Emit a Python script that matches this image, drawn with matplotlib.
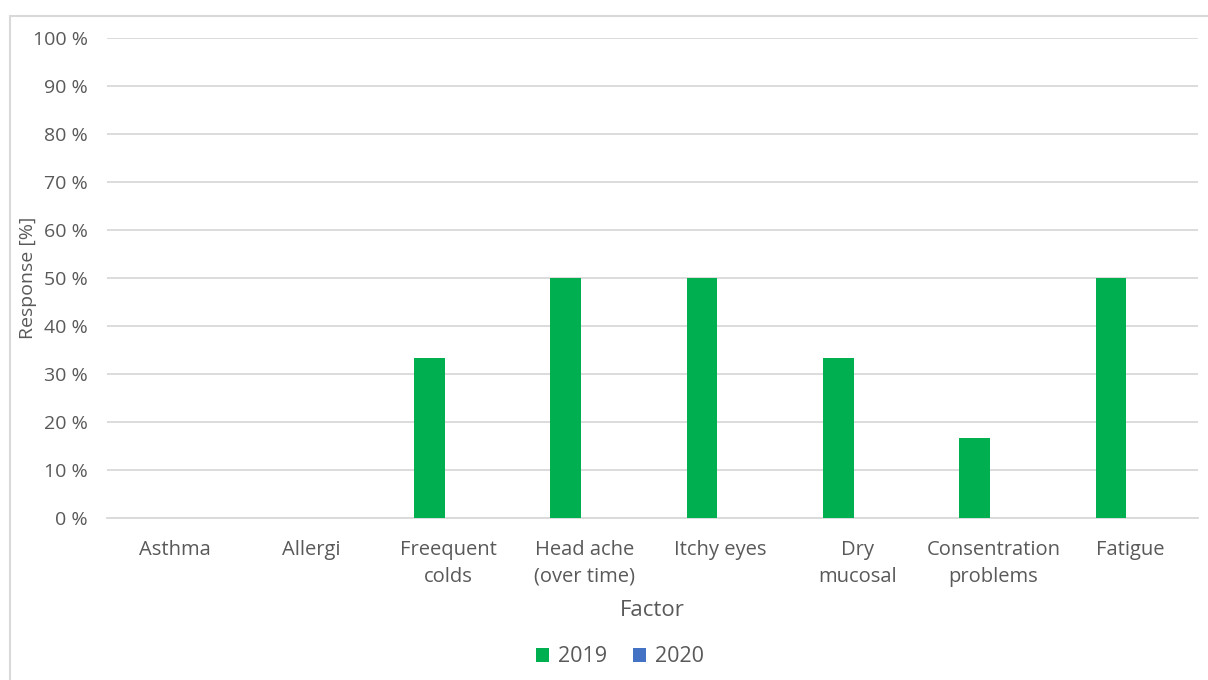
import matplotlib
matplotlib.use("Agg")
import matplotlib.pyplot as plt
from matplotlib.patches import Rectangle
import numpy as np

categories = ["Asthma", "Allergi", "Freequent\ncolds", "Head ache\n(over time)", "Itchy eyes",
              "Dry\nmucosal", "Consentration\nproblems", "Fatigue"]
values_2019 = [0, 0, 33.3, 50, 50, 33.3, 16.7, 50]
values_2020 = [0, 0, 0, 0, 0, 0, 0, 0]
series_names = ["2019", "2020"]
colors = ["#00B050", "#4472C4"]
yticks = list(range(0, 101, 10))

plt.rcParams['font.family'] = ['Open Sans', 'DejaVu Sans']
grey = "#595959"

W, H = 1208, 680
fig = plt.figure(figsize=(W/100, H/100), dpi=100)
ax = fig.add_axes([107/W, 1-518/H, (1198-107)/W, (518-38)/H])

fig.patches.append(Rectangle((10/W, -0.1), 1.2, 1-16/H+0.1, transform=fig.transFigure,
                             fill=False, edgecolor="#D9D9D9", linewidth=1.5))

x = np.arange(len(categories))
bw = 0.225
ax.bar(x - 0.137, values_2019, width=bw, color=colors[0], label=series_names[0], zorder=3)
ax.bar(x + 0.137, values_2020, width=bw, color=colors[1], label=series_names[1], zorder=3)

ax.set_xlim(-0.5, len(categories) - 0.5)
ax.set_ylim(0, 100)
ax.set_yticks(yticks)
ax.set_yticklabels([f"{t} %" for t in yticks], color=grey, fontsize=14)
ax.set_xticks(x)
ax.set_xticklabels(categories, color=grey, fontsize=14.5, linespacing=1.45, va="top")
ax.tick_params(axis="both", length=0)
ax.tick_params(axis="x", pad=16)
ax.tick_params(axis="y", pad=14)
ax.grid(axis="y", color="#D9D9D9", linewidth=1.3, zorder=0)
for s in ["top", "right", "left"]:
    ax.spines[s].set_visible(False)
ax.spines["bottom"].set_color("#D9D9D9")
ax.spines["bottom"].set_linewidth(1.3)

fig.text(28/W, 1-278/H, "Response [%]", rotation=90, ha="center", va="center", color=grey, fontsize=14)
fig.text(652/W, 1-611/H, "Factor", ha="center", va="center", color=grey, fontsize=16)

leg = fig.legend(loc="center", bbox_to_anchor=(620/W, 1-657/H), ncol=2, frameon=False,
                 fontsize=15.5, handlelength=0.6, handleheight=0.6, handletextpad=0.4,
                 columnspacing=1.2)
for t in leg.get_texts():
    t.set_color(grey)

fig.savefig("out.png", dpi=100, facecolor="white")
